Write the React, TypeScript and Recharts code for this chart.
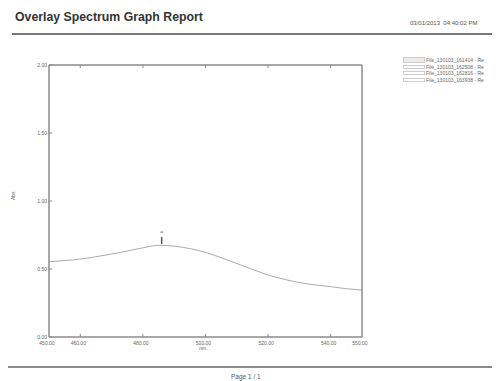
import { LineChart, Line, XAxis, YAxis, ReferenceDot, ReferenceArea } from 'recharts'

// wavelength (nm) and absorbance
const wavelengths = [450, 455, 460, 465, 470, 475, 480, 485, 490, 495, 500, 505, 510, 515, 520, 525, 530, 535, 540, 545, 550]
const absorbance = [0.553, 0.562, 0.573, 0.59, 0.61, 0.632, 0.656, 0.674, 0.668, 0.65, 0.622, 0.583, 0.54, 0.497, 0.456, 0.425, 0.4, 0.383, 0.37, 0.355, 0.345]
const xTicks = [450, 460, 480, 500, 520, 540, 550]
const yTicks = [0, 0.5, 1, 1.5, 2]
const fileNames = [
  'File_130103_161414 - Re',
  'File_130103_162508 - Re',
  'File_130103_162816 - Re',
  'File_130103_163938 - Re',
]
const peak = { x: 486, y: 0.676 }

const data = wavelengths.map((w, i) => ({ nm: w, abs: absorbance[i] }))

const AXIS = '#8a8a8a'
const FONT = '"Liberation Sans", Arial, sans-serif'

function BottomTick(props: any) {
  const { x, y, payload } = props
  const edge = payload.value === 450 || payload.value === 550
  return (
    <g>
      {!edge && <line x1={x} x2={x} y1={y} y2={y - 3} stroke={AXIS} strokeWidth={1} />}
      <text x={x - 2} y={y + 8} textAnchor="middle" fontSize={5} fill="#666" fontFamily={FONT}>
        {payload.value.toFixed(2)}
      </text>
    </g>
  )
}

function TopTick(props: any) {
  const { x, y, payload } = props
  if (payload.value === 450 || payload.value === 550) return <g />
  return <line x1={x} x2={x} y1={y} y2={y + 3} stroke={AXIS} strokeWidth={1} />
}

function LeftTick(props: any) {
  const { x, y, payload } = props
  return (
    <g>
      <line x1={x} x2={x + 3} y1={y} y2={y} stroke={AXIS} strokeWidth={1} />
      <text x={x - 2} y={y + 1.8} textAnchor="end" fontSize={5} fill="#666" fontFamily={FONT}>
        {payload.value.toFixed(2)}
      </text>
    </g>
  )
}

function RightTick(props: any) {
  const { x, y } = props
  return <line x1={x} x2={x - 3} y1={y} y2={y} stroke={AXIS} strokeWidth={1} />
}

function PeakMark(props: any) {
  const { cx, cy } = props
  return (
    <g>
      <line x1={cx} x2={cx} y1={cy - 1} y2={cy - 8} stroke="#555" strokeWidth={1.5} />
      <line x1={cx - 1.5} x2={cx + 1.5} y1={cy - 13} y2={cy - 13} stroke="#777" strokeWidth={1} />
    </g>
  )
}

export default function App() {
  return (
    <div style={{ position: 'absolute', left: 0, top: 0, width: 499, height: 381, background: '#fff', fontFamily: FONT, overflow: 'hidden' }}>
      <div style={{ position: 'absolute', left: 15, top: 10, fontSize: 12.3, fontWeight: 'bold', color: '#333', whiteSpace: 'nowrap' }}>
        Overlay Spectrum Graph Report
      </div>
      <div style={{ position: 'absolute', left: 410, top: 20, fontSize: 6, color: '#555', whiteSpace: 'nowrap' }}>
        03/01/2013&nbsp;&nbsp;04:40:02 PM
      </div>
      <div style={{ position: 'absolute', left: 12, top: 33, width: 480, height: 2, background: '#7a7a7a' }} />

      <div style={{ position: 'absolute', left: 403, top: 57 }}>
        {fileNames.map((n, i) => (
          <div key={n} style={{ display: 'flex', alignItems: 'center', height: 6.5 }}>
            <div style={{ width: 22, height: i === 0 ? 6 : 4, border: '1px solid #ccc', background: i === 0 ? '#ececec' : '#fff', boxSizing: 'border-box' }} />
            <span style={{ fontSize: 5, color: '#666', marginLeft: 1, whiteSpace: 'nowrap' }}>{n}</span>
          </div>
        ))}
      </div>

      <div style={{ position: 'absolute', left: 0, top: 0 }}>
        <LineChart width={499} height={381} data={data} margin={{ top: 64, right: 136, bottom: 14, left: 9 }}>
          <XAxis
            xAxisId="b"
            dataKey="nm"
            type="number"
            domain={[450, 550]}
            ticks={xTicks}
            interval={0}
            tickSize={0}
            tickMargin={0}
            tickLine={false}
            height={30}
            axisLine={{ stroke: AXIS }}
            tick={<BottomTick />}
          />
          <XAxis
            xAxisId="t"
            orientation="top"
            dataKey="nm"
            type="number"
            domain={[450, 550]}
            ticks={xTicks}
            interval={0}
            tickSize={0}
            tickMargin={0}
            tickLine={false}
            height={1}
            axisLine={{ stroke: AXIS }}
            tick={<TopTick />}
          />
          <YAxis
            yAxisId="l"
            domain={[0, 2]}
            ticks={yTicks}
            interval={0}
            tickSize={0}
            tickMargin={0}
            tickLine={false}
            width={40}
            axisLine={{ stroke: AXIS }}
            tick={<LeftTick />}
          />
          <YAxis
            yAxisId="r"
            orientation="right"
            domain={[0, 2]}
            ticks={yTicks}
            interval={0}
            tickSize={0}
            tickMargin={0}
            tickLine={false}
            width={1}
            axisLine={{ stroke: AXIS }}
            tick={<RightTick />}
          />
          <ReferenceArea xAxisId="b" yAxisId="l" x1={450} x2={550} y1={0} y2={2} fill="none" stroke={AXIS} strokeWidth={1} />
          <Line
            xAxisId="b"
            yAxisId="l"
            type="monotone"
            dataKey="abs"
            stroke="#ababab"
            strokeWidth={1}
            dot={false}
            isAnimationActive={false}
          />
          <ReferenceDot xAxisId="b" yAxisId="l" x={peak.x} y={peak.y} shape={<PeakMark />} />
        </LineChart>
      </div>

      <div style={{ position: 'absolute', left: 199, top: 345, fontSize: 5, color: '#666' }}>nm.</div>
      <div style={{ position: 'absolute', left: 8, top: 192, fontSize: 5, color: '#666', transform: 'rotate(-90deg)' }}>Abs.</div>

      <div style={{ position: 'absolute', left: 8, top: 366, width: 484, height: 2, background: '#8a8a8a' }} />
      <div style={{ position: 'absolute', left: 231, top: 373, fontSize: 6.5, color: '#555', whiteSpace: 'nowrap' }}>Page 1 / 1</div>
    </div>
  )
}
